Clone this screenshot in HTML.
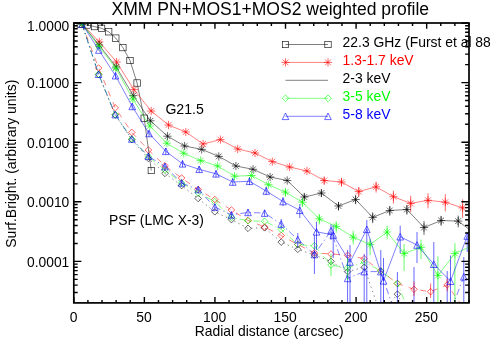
<!DOCTYPE html>
<html><head><meta charset="utf-8"><title>XMM PN+MOS1+MOS2 weighted profile</title>
<style>
html,body{margin:0;padding:0;background:#fff;}
body{width:491px;height:350px;overflow:hidden;position:relative;font-family:"Liberation Sans",sans-serif;}
svg text{font-family:"Liberation Sans",sans-serif;}
</style></head><body>
<svg width="491" height="350" viewBox="0 0 491 350" style="position:absolute;left:0;top:0;will-change:transform">
<defs><clipPath id="c"><rect x="73.8" y="23" width="395.2" height="279.9"/></clipPath></defs>
<g clip-path="url(#c)">
<polyline points="82.0,24.0 98.6,74.6 115.2,115.0 131.8,139.6 148.4,158.5 165.0,173.4 181.6,185.6 198.2,198.5 214.8,211.8 231.4,219.6 248.0,228.3 264.6,227.8 281.2,242.1 297.8,249.3 314.4,255.0 331.0,261.4 347.6,271.6 364.2,267.3 380.8,315.0 397.4,294.2 414.0,330.0" fill="none" stroke="#000000" stroke-width="0.5" stroke-dasharray="1.3,3.4"/>
<path d="M95.3,74.6L98.6,71.3L101.9,74.6L98.6,77.9Z" stroke="#000000" stroke-width="0.6" fill="none"/>
<path d="M111.9,115.0L115.2,111.7L118.5,115.0L115.2,118.3Z" stroke="#000000" stroke-width="0.6" fill="none"/>
<path d="M128.5,139.6L131.8,136.3L135.1,139.6L131.8,142.9Z" stroke="#000000" stroke-width="0.6" fill="none"/>
<path d="M145.1,158.5L148.4,155.2L151.7,158.5L148.4,161.8Z" stroke="#000000" stroke-width="0.6" fill="none"/>
<path d="M161.7,173.4L165.0,170.1L168.3,173.4L165.0,176.7Z" stroke="#000000" stroke-width="0.6" fill="none"/>
<path d="M178.3,185.6L181.6,182.3L184.9,185.6L181.6,188.9Z" stroke="#000000" stroke-width="0.6" fill="none"/>
<path d="M194.9,198.5L198.2,195.2L201.5,198.5L198.2,201.8Z" stroke="#000000" stroke-width="0.6" fill="none"/>
<path d="M211.5,211.8L214.8,208.5L218.1,211.8L214.8,215.1Z" stroke="#000000" stroke-width="0.6" fill="none"/>
<path d="M228.1,219.6L231.4,216.3L234.7,219.6L231.4,222.9Z" stroke="#000000" stroke-width="0.6" fill="none"/>
<path d="M244.7,228.3L248.0,225.0L251.3,228.3L248.0,231.6Z" stroke="#000000" stroke-width="0.6" fill="none"/>
<path d="M261.3,227.8L264.6,224.5L267.9,227.8L264.6,231.1Z" stroke="#000000" stroke-width="0.6" fill="none"/>
<path d="M277.9,242.1L281.2,238.8L284.5,242.1L281.2,245.4Z" stroke="#000000" stroke-width="0.6" fill="none"/>
<path d="M294.5,249.3L297.8,246.0L301.1,249.3L297.8,252.6Z" stroke="#000000" stroke-width="0.6" fill="none"/>
<path d="M311.1,255.0L314.4,251.7L317.7,255.0L314.4,258.3Z" stroke="#000000" stroke-width="0.6" fill="none"/>
<path d="M327.7,261.4L331.0,258.1L334.3,261.4L331.0,264.7Z" stroke="#000000" stroke-width="0.6" fill="none"/>
<path d="M344.3,271.6L347.6,268.3L350.9,271.6L347.6,274.9Z" stroke="#000000" stroke-width="0.6" fill="none"/>
<path d="M360.9,267.3L364.2,264.0L367.5,267.3L364.2,270.6Z" stroke="#000000" stroke-width="0.6" fill="none"/>
<path d="M394.1,294.2L397.4,290.9L400.7,294.2L397.4,297.5Z" stroke="#000000" stroke-width="0.6" fill="none"/>
<polyline points="82.0,24.0 98.6,68.0 115.2,107.8 131.8,132.4 148.4,150.0 165.0,165.8 181.6,178.0 198.2,189.5 214.8,199.5 231.4,210.0 248.0,220.4 264.6,227.0 281.2,235.5 297.8,244.5 314.4,253.0 331.0,254.0 347.6,255.3 364.2,258.7 380.8,271.0 397.4,283.5 414.0,289.3 430.6,291.7 447.2,284.9 463.8,308.0" fill="none" stroke="#ff0000" stroke-width="0.5" stroke-dasharray="5.8,6.2"/>
<path d="M95.3,68.0L98.6,64.7L101.9,68.0L98.6,71.3Z" stroke="#ff0000" stroke-width="0.6" fill="none"/>
<path d="M111.9,107.8L115.2,104.5L118.5,107.8L115.2,111.1Z" stroke="#ff0000" stroke-width="0.6" fill="none"/>
<path d="M128.5,132.4L131.8,129.1L135.1,132.4L131.8,135.7Z" stroke="#ff0000" stroke-width="0.6" fill="none"/>
<path d="M145.1,150.0L148.4,146.7L151.7,150.0L148.4,153.3Z" stroke="#ff0000" stroke-width="0.6" fill="none"/>
<path d="M161.7,165.8L165.0,162.5L168.3,165.8L165.0,169.1Z" stroke="#ff0000" stroke-width="0.6" fill="none"/>
<path d="M178.3,178.0L181.6,174.7L184.9,178.0L181.6,181.3Z" stroke="#ff0000" stroke-width="0.6" fill="none"/>
<path d="M194.9,189.5L198.2,186.2L201.5,189.5L198.2,192.8Z" stroke="#ff0000" stroke-width="0.6" fill="none"/>
<path d="M211.5,199.5L214.8,196.2L218.1,199.5L214.8,202.8Z" stroke="#ff0000" stroke-width="0.6" fill="none"/>
<path d="M228.1,210.0L231.4,206.7L234.7,210.0L231.4,213.3Z" stroke="#ff0000" stroke-width="0.6" fill="none"/>
<path d="M244.7,220.4L248.0,217.1L251.3,220.4L248.0,223.7Z" stroke="#ff0000" stroke-width="0.6" fill="none"/>
<path d="M261.3,227.0L264.6,223.7L267.9,227.0L264.6,230.3Z" stroke="#ff0000" stroke-width="0.6" fill="none"/>
<path d="M277.9,235.5L281.2,232.2L284.5,235.5L281.2,238.8Z" stroke="#ff0000" stroke-width="0.6" fill="none"/>
<path d="M294.5,244.5L297.8,241.2L301.1,244.5L297.8,247.8Z" stroke="#ff0000" stroke-width="0.6" fill="none"/>
<path d="M311.1,253.0L314.4,249.7L317.7,253.0L314.4,256.3Z" stroke="#ff0000" stroke-width="0.6" fill="none"/>
<path d="M327.7,254.0L331.0,250.7L334.3,254.0L331.0,257.3Z" stroke="#ff0000" stroke-width="0.6" fill="none"/>
<path d="M344.3,255.3L347.6,252.0L350.9,255.3L347.6,258.6Z" stroke="#ff0000" stroke-width="0.6" fill="none"/>
<path d="M360.9,258.7L364.2,255.4L367.5,258.7L364.2,262.0Z" stroke="#ff0000" stroke-width="0.6" fill="none"/>
<path d="M377.5,271.0L380.8,267.7L384.1,271.0L380.8,274.3Z" stroke="#ff0000" stroke-width="0.6" fill="none"/>
<path d="M394.1,283.5L397.4,280.2L400.7,283.5L397.4,286.8Z" stroke="#ff0000" stroke-width="0.6" fill="none"/>
<path d="M410.7,289.3L414.0,286.0L417.3,289.3L414.0,292.6Z" stroke="#ff0000" stroke-width="0.6" fill="none"/>
<path d="M427.3,291.7L430.6,288.4L433.9,291.7L430.6,295.0Z" stroke="#ff0000" stroke-width="0.6" fill="none"/>
<path d="M443.9,284.9L447.2,281.6L450.5,284.9L447.2,288.2Z" stroke="#ff0000" stroke-width="0.6" fill="none"/>
<polyline points="82.0,24.0 98.6,74.2 115.2,114.6 131.8,139.0 148.4,156.5 165.0,170.0 181.6,183.0 198.2,193.0 214.8,201.6 231.4,217.5 248.0,220.8 264.6,221.3 281.2,229.4 297.8,244.6 314.4,245.8 331.0,265.0 347.6,268.0 364.2,262.0 380.8,271.0 397.4,283.5 414.0,324.0" fill="none" stroke="#00ff00" stroke-width="0.5" stroke-dasharray="6.5,3,1.3,3"/>
<path d="M95.3,74.2L98.6,70.9L101.9,74.2L98.6,77.5Z" stroke="#00ff00" stroke-width="0.6" fill="none"/>
<path d="M111.9,114.6L115.2,111.3L118.5,114.6L115.2,117.9Z" stroke="#00ff00" stroke-width="0.6" fill="none"/>
<path d="M128.5,139.0L131.8,135.7L135.1,139.0L131.8,142.3Z" stroke="#00ff00" stroke-width="0.6" fill="none"/>
<path d="M145.1,156.5L148.4,153.2L151.7,156.5L148.4,159.8Z" stroke="#00ff00" stroke-width="0.6" fill="none"/>
<path d="M161.7,170.0L165.0,166.7L168.3,170.0L165.0,173.3Z" stroke="#00ff00" stroke-width="0.6" fill="none"/>
<path d="M178.3,183.0L181.6,179.7L184.9,183.0L181.6,186.3Z" stroke="#00ff00" stroke-width="0.6" fill="none"/>
<path d="M194.9,193.0L198.2,189.7L201.5,193.0L198.2,196.3Z" stroke="#00ff00" stroke-width="0.6" fill="none"/>
<path d="M211.5,201.6L214.8,198.3L218.1,201.6L214.8,204.9Z" stroke="#00ff00" stroke-width="0.6" fill="none"/>
<path d="M228.1,217.5L231.4,214.2L234.7,217.5L231.4,220.8Z" stroke="#00ff00" stroke-width="0.6" fill="none"/>
<path d="M244.7,220.8L248.0,217.5L251.3,220.8L248.0,224.1Z" stroke="#00ff00" stroke-width="0.6" fill="none"/>
<path d="M261.3,221.3L264.6,218.0L267.9,221.3L264.6,224.6Z" stroke="#00ff00" stroke-width="0.6" fill="none"/>
<path d="M277.9,229.4L281.2,226.1L284.5,229.4L281.2,232.7Z" stroke="#00ff00" stroke-width="0.6" fill="none"/>
<path d="M294.5,244.6L297.8,241.3L301.1,244.6L297.8,247.9Z" stroke="#00ff00" stroke-width="0.6" fill="none"/>
<path d="M311.1,245.8L314.4,242.5L317.7,245.8L314.4,249.1Z" stroke="#00ff00" stroke-width="0.6" fill="none"/>
<path d="M327.7,265.0L331.0,261.7L334.3,265.0L331.0,268.3Z" stroke="#00ff00" stroke-width="0.6" fill="none"/>
<path d="M344.3,268.0L347.6,264.7L350.9,268.0L347.6,271.3Z" stroke="#00ff00" stroke-width="0.6" fill="none"/>
<path d="M360.9,262.0L364.2,258.7L367.5,262.0L364.2,265.3Z" stroke="#00ff00" stroke-width="0.6" fill="none"/>
<path d="M377.5,271.0L380.8,267.7L384.1,271.0L380.8,274.3Z" stroke="#00ff00" stroke-width="0.6" fill="none"/>
<path d="M394.1,283.5L397.4,280.2L400.7,283.5L397.4,286.8Z" stroke="#00ff00" stroke-width="0.6" fill="none"/>
<polyline points="82.0,24.0 98.6,74.2 115.2,114.6 131.8,139.0 148.4,156.3 165.0,166.5 181.6,182.9 198.2,189.6 214.8,207.0 231.4,214.9 248.0,212.4 264.6,213.1 281.2,224.0 297.8,239.6 314.4,254.5 331.0,230.7 347.6,278.4 364.2,271.6 380.8,271.6 397.4,320.0 414.0,320.0 430.6,320.0 447.2,320.0 463.8,276.8" fill="none" stroke="#0000ff" stroke-width="0.5" stroke-dasharray="6.5,3,1.3,3"/>
<path d="M95.3,77.5L98.6,70.9L101.9,77.5Z" stroke="#0000ff" stroke-width="0.6" fill="none"/>
<path d="M111.9,117.9L115.2,111.3L118.5,117.9Z" stroke="#0000ff" stroke-width="0.6" fill="none"/>
<path d="M128.5,142.3L131.8,135.7L135.1,142.3Z" stroke="#0000ff" stroke-width="0.6" fill="none"/>
<path d="M145.1,159.6L148.4,153.0L151.7,159.6Z" stroke="#0000ff" stroke-width="0.6" fill="none"/>
<path d="M161.7,169.8L165.0,163.2L168.3,169.8Z" stroke="#0000ff" stroke-width="0.6" fill="none"/>
<path d="M178.3,186.2L181.6,179.6L184.9,186.2Z" stroke="#0000ff" stroke-width="0.6" fill="none"/>
<path d="M194.9,192.9L198.2,186.3L201.5,192.9Z" stroke="#0000ff" stroke-width="0.6" fill="none"/>
<path d="M211.5,210.3L214.8,203.7L218.1,210.3Z" stroke="#0000ff" stroke-width="0.6" fill="none"/>
<path d="M228.1,218.2L231.4,211.6L234.7,218.2Z" stroke="#0000ff" stroke-width="0.6" fill="none"/>
<path d="M244.7,215.7L248.0,209.1L251.3,215.7Z" stroke="#0000ff" stroke-width="0.6" fill="none"/>
<path d="M261.3,216.4L264.6,209.8L267.9,216.4Z" stroke="#0000ff" stroke-width="0.6" fill="none"/>
<path d="M277.9,227.3L281.2,220.7L284.5,227.3Z" stroke="#0000ff" stroke-width="0.6" fill="none"/>
<path d="M294.5,242.9L297.8,236.3L301.1,242.9Z" stroke="#0000ff" stroke-width="0.6" fill="none"/>
<path d="M311.1,257.8L314.4,251.2L317.7,257.8Z" stroke="#0000ff" stroke-width="0.6" fill="none"/>
<path d="M327.7,234.0L331.0,227.4L334.3,234.0Z" stroke="#0000ff" stroke-width="0.6" fill="none"/>
<path d="M344.3,281.7L347.6,275.1L350.9,281.7Z" stroke="#0000ff" stroke-width="0.6" fill="none"/>
<path d="M360.9,274.9L364.2,268.3L367.5,274.9Z" stroke="#0000ff" stroke-width="0.6" fill="none"/>
<path d="M377.5,274.9L380.8,268.3L384.1,274.9Z" stroke="#0000ff" stroke-width="0.6" fill="none"/>
<path d="M460.5,280.1L463.8,273.5L467.1,280.1Z" stroke="#0000ff" stroke-width="0.6" fill="none"/>
<polyline points="80.3,24.3 87.4,25.0 94.5,26.6 101.6,28.3 108.7,31.8 115.8,38.1 122.9,47.6 130.0,60.5 137.1,83.0 144.2,118.2 151.3,170.5" fill="none" stroke="#000000" stroke-width="0.5"/>
<rect x="77.1" y="21.1" width="6.4" height="6.4" stroke="#000000" stroke-width="0.6" fill="none"/>
<rect x="84.2" y="21.8" width="6.4" height="6.4" stroke="#000000" stroke-width="0.6" fill="none"/>
<rect x="91.3" y="23.4" width="6.4" height="6.4" stroke="#000000" stroke-width="0.6" fill="none"/>
<rect x="98.4" y="25.1" width="6.4" height="6.4" stroke="#000000" stroke-width="0.6" fill="none"/>
<rect x="105.5" y="28.6" width="6.4" height="6.4" stroke="#000000" stroke-width="0.6" fill="none"/>
<rect x="112.6" y="34.9" width="6.4" height="6.4" stroke="#000000" stroke-width="0.6" fill="none"/>
<rect x="119.7" y="44.4" width="6.4" height="6.4" stroke="#000000" stroke-width="0.6" fill="none"/>
<rect x="126.8" y="57.3" width="6.4" height="6.4" stroke="#000000" stroke-width="0.6" fill="none"/>
<rect x="133.9" y="79.8" width="6.4" height="6.4" stroke="#000000" stroke-width="0.6" fill="none"/>
<rect x="141.0" y="115.0" width="6.4" height="6.4" stroke="#000000" stroke-width="0.6" fill="none"/>
<rect x="148.1" y="167.3" width="6.4" height="6.4" stroke="#000000" stroke-width="0.6" fill="none"/>
<path d="M324.2,177.0V184.5" stroke="#ff0000" stroke-width="0.6" fill="none"/>
<path d="M341.5,178.0V186.6" stroke="#ff0000" stroke-width="0.6" fill="none"/>
<path d="M358.8,187.1V196.8" stroke="#ff0000" stroke-width="0.6" fill="none"/>
<path d="M376.1,181.8V192.6" stroke="#ff0000" stroke-width="0.6" fill="none"/>
<path d="M393.4,190.7V203.6" stroke="#ff0000" stroke-width="0.6" fill="none"/>
<path d="M410.7,195.8V212.1" stroke="#ff0000" stroke-width="0.6" fill="none"/>
<path d="M428.0,193.3V208.4" stroke="#ff0000" stroke-width="0.6" fill="none"/>
<path d="M445.3,194.2V211.4" stroke="#ff0000" stroke-width="0.6" fill="none"/>
<path d="M462.6,199.3V217.8" stroke="#ff0000" stroke-width="0.6" fill="none"/>
<path d="M304.3,193.5V201.0" stroke="#000000" stroke-width="0.6" fill="none"/>
<path d="M321.4,189.5V197.0" stroke="#000000" stroke-width="0.6" fill="none"/>
<path d="M338.5,202.0V210.6" stroke="#000000" stroke-width="0.6" fill="none"/>
<path d="M355.6,195.5V204.1" stroke="#000000" stroke-width="0.6" fill="none"/>
<path d="M372.7,212.4V223.2" stroke="#000000" stroke-width="0.6" fill="none"/>
<path d="M389.8,206.0V215.7" stroke="#000000" stroke-width="0.6" fill="none"/>
<path d="M406.9,205.0V214.7" stroke="#000000" stroke-width="0.6" fill="none"/>
<path d="M424.0,221.1V234.9" stroke="#000000" stroke-width="0.6" fill="none"/>
<path d="M441.1,215.9V225.8" stroke="#000000" stroke-width="0.6" fill="none"/>
<path d="M458.2,215.6V227.4" stroke="#000000" stroke-width="0.6" fill="none"/>
<path d="M285.4,188.5V196.5" stroke="#00ff00" stroke-width="0.6" fill="none"/>
<path d="M302.4,198.0V207.0" stroke="#00ff00" stroke-width="0.6" fill="none"/>
<path d="M319.3,214.0V224.5" stroke="#00ff00" stroke-width="0.6" fill="none"/>
<path d="M336.2,221.4V232.9" stroke="#00ff00" stroke-width="0.6" fill="none"/>
<path d="M353.2,230.7V244.3" stroke="#00ff00" stroke-width="0.6" fill="none"/>
<path d="M370.1,238.6V255.0" stroke="#00ff00" stroke-width="0.6" fill="none"/>
<path d="M387.1,225.7V239.4" stroke="#00ff00" stroke-width="0.6" fill="none"/>
<path d="M404.1,244.0V271.0" stroke="#00ff00" stroke-width="0.6" fill="none"/>
<path d="M421.0,239.5V259.0" stroke="#00ff00" stroke-width="0.6" fill="none"/>
<path d="M437.9,256.4V303.0" stroke="#00ff00" stroke-width="0.6" fill="none"/>
<path d="M454.9,243.0V303.0" stroke="#00ff00" stroke-width="0.6" fill="none"/>
<path d="M471.8,236.0V262.0" stroke="#00ff00" stroke-width="0.6" fill="none"/>
<path d="M115.5,72.5V79.0" stroke="#0000ff" stroke-width="0.6" fill="none"/>
<path d="M132.2,103.2V109.7" stroke="#0000ff" stroke-width="0.6" fill="none"/>
<path d="M149.0,130.3V136.8" stroke="#0000ff" stroke-width="0.6" fill="none"/>
<path d="M165.8,148.1V154.6" stroke="#0000ff" stroke-width="0.6" fill="none"/>
<path d="M182.5,160.6V167.1" stroke="#0000ff" stroke-width="0.6" fill="none"/>
<path d="M199.2,166.1V172.6" stroke="#0000ff" stroke-width="0.6" fill="none"/>
<path d="M216.0,170.3V177.3" stroke="#0000ff" stroke-width="0.6" fill="none"/>
<path d="M232.8,178.3V185.5" stroke="#0000ff" stroke-width="0.6" fill="none"/>
<path d="M249.5,177.0V185.0" stroke="#0000ff" stroke-width="0.6" fill="none"/>
<path d="M266.2,187.0V195.0" stroke="#0000ff" stroke-width="0.6" fill="none"/>
<path d="M283.0,197.0V206.0" stroke="#0000ff" stroke-width="0.6" fill="none"/>
<path d="M299.8,204.0V218.0" stroke="#0000ff" stroke-width="0.6" fill="none"/>
<path d="M316.5,222.0V250.0" stroke="#0000ff" stroke-width="0.6" fill="none"/>
<path d="M333.2,225.0V258.0" stroke="#0000ff" stroke-width="0.6" fill="none"/>
<path d="M350.0,245.0V303.0" stroke="#0000ff" stroke-width="0.6" fill="none"/>
<path d="M366.8,220.0V303.0" stroke="#0000ff" stroke-width="0.6" fill="none"/>
<path d="M383.5,258.0V303.0" stroke="#0000ff" stroke-width="0.6" fill="none"/>
<path d="M400.2,225.7V253.0" stroke="#0000ff" stroke-width="0.6" fill="none"/>
<path d="M417.0,232.0V263.0" stroke="#0000ff" stroke-width="0.6" fill="none"/>
<path d="M433.8,242.0V303.0" stroke="#0000ff" stroke-width="0.6" fill="none"/>
<path d="M450.5,255.5V303.0" stroke="#0000ff" stroke-width="0.6" fill="none"/>
<path d="M467.2,232.7V252.0" stroke="#0000ff" stroke-width="0.6" fill="none"/>
<path d="M148.4,153.0V159.6" stroke="#0000ff" stroke-width="0.6" fill="none"/>
<path d="M165.0,163.2V169.8" stroke="#0000ff" stroke-width="0.6" fill="none"/>
<path d="M181.6,179.6V186.2" stroke="#0000ff" stroke-width="0.6" fill="none"/>
<path d="M198.2,186.3V192.9" stroke="#0000ff" stroke-width="0.6" fill="none"/>
<path d="M214.8,203.7V210.3" stroke="#0000ff" stroke-width="0.6" fill="none"/>
<path d="M231.4,211.6V218.2" stroke="#0000ff" stroke-width="0.6" fill="none"/>
<path d="M248.0,209.1V215.7" stroke="#0000ff" stroke-width="0.6" fill="none"/>
<path d="M264.6,209.8V216.4" stroke="#0000ff" stroke-width="0.6" fill="none"/>
<path d="M281.2,219.0V229.0" stroke="#0000ff" stroke-width="0.6" fill="none"/>
<path d="M297.8,233.0V248.0" stroke="#0000ff" stroke-width="0.6" fill="none"/>
<path d="M314.4,235.0V274.0" stroke="#0000ff" stroke-width="0.6" fill="none"/>
<path d="M331.0,224.0V240.0" stroke="#0000ff" stroke-width="0.6" fill="none"/>
<path d="M347.6,250.0V303.0" stroke="#0000ff" stroke-width="0.6" fill="none"/>
<path d="M364.2,254.0V303.0" stroke="#0000ff" stroke-width="0.6" fill="none"/>
<path d="M380.8,250.0V303.0" stroke="#0000ff" stroke-width="0.6" fill="none"/>
<path d="M397.4,272.0V303.0" stroke="#0000ff" stroke-width="0.6" fill="none"/>
<path d="M414.0,267.0V303.0" stroke="#0000ff" stroke-width="0.6" fill="none"/>
<path d="M447.2,271.0V303.0" stroke="#0000ff" stroke-width="0.6" fill="none"/>
<path d="M463.8,257.0V303.0" stroke="#0000ff" stroke-width="0.6" fill="none"/>
<path d="M331.0,254.0V276.0" stroke="#00ff00" stroke-width="0.6" fill="none"/>
<path d="M347.6,258.0V280.0" stroke="#00ff00" stroke-width="0.6" fill="none"/>
<path d="M414.0,281.6V296.0" stroke="#ff0000" stroke-width="0.6" fill="none"/>
<path d="M430.6,283.5V298.0" stroke="#ff0000" stroke-width="0.6" fill="none"/>
<path d="M447.2,278.7V291.3" stroke="#ff0000" stroke-width="0.6" fill="none"/>
<polyline points="82.0,24.0 99.3,41.9 116.6,62.0 133.9,89.6 151.2,111.0 168.5,125.0 185.8,132.0 203.1,144.0 220.4,139.6 237.7,149.0 255.0,153.0 272.3,161.6 289.6,167.0 306.9,171.0 324.2,180.5 341.5,182.0 358.8,191.6 376.1,186.8 393.4,196.7 410.7,203.4 428.0,200.3 445.3,202.2 462.6,207.9" fill="none" stroke="#ff0000" stroke-width="0.5"/>
<path d="M77.9,24.0H86.1M82.0,19.9V28.1M79.1,21.1L84.9,26.9M79.1,26.9L84.9,21.1" stroke="#ff0000" stroke-width="0.6" fill="none"/>
<path d="M95.2,41.9H103.4M99.3,37.8V46.0M96.4,39.0L102.2,44.8M96.4,44.8L102.2,39.0" stroke="#ff0000" stroke-width="0.6" fill="none"/>
<path d="M112.5,62.0H120.7M116.6,57.9V66.1M113.7,59.1L119.5,64.9M113.7,64.9L119.5,59.1" stroke="#ff0000" stroke-width="0.6" fill="none"/>
<path d="M129.8,89.6H138.0M133.9,85.5V93.7M131.0,86.7L136.8,92.5M131.0,92.5L136.8,86.7" stroke="#ff0000" stroke-width="0.6" fill="none"/>
<path d="M147.1,111.0H155.3M151.2,106.9V115.1M148.3,108.1L154.1,113.9M148.3,113.9L154.1,108.1" stroke="#ff0000" stroke-width="0.6" fill="none"/>
<path d="M164.4,125.0H172.6M168.5,120.9V129.1M165.6,122.1L171.4,127.9M165.6,127.9L171.4,122.1" stroke="#ff0000" stroke-width="0.6" fill="none"/>
<path d="M181.7,132.0H189.9M185.8,127.9V136.1M182.9,129.1L188.7,134.9M182.9,134.9L188.7,129.1" stroke="#ff0000" stroke-width="0.6" fill="none"/>
<path d="M199.0,144.0H207.2M203.1,139.9V148.1M200.2,141.1L206.0,146.9M200.2,146.9L206.0,141.1" stroke="#ff0000" stroke-width="0.6" fill="none"/>
<path d="M216.3,139.6H224.5M220.4,135.5V143.7M217.5,136.7L223.3,142.5M217.5,142.5L223.3,136.7" stroke="#ff0000" stroke-width="0.6" fill="none"/>
<path d="M233.6,149.0H241.8M237.7,144.9V153.1M234.8,146.1L240.6,151.9M234.8,151.9L240.6,146.1" stroke="#ff0000" stroke-width="0.6" fill="none"/>
<path d="M250.9,153.0H259.1M255.0,148.9V157.1M252.1,150.1L257.9,155.9M252.1,155.9L257.9,150.1" stroke="#ff0000" stroke-width="0.6" fill="none"/>
<path d="M268.2,161.6H276.4M272.3,157.5V165.7M269.4,158.7L275.2,164.5M269.4,164.5L275.2,158.7" stroke="#ff0000" stroke-width="0.6" fill="none"/>
<path d="M285.5,167.0H293.7M289.6,162.9V171.1M286.7,164.1L292.5,169.9M286.7,169.9L292.5,164.1" stroke="#ff0000" stroke-width="0.6" fill="none"/>
<path d="M302.8,171.0H311.0M306.9,166.9V175.1M304.0,168.1L309.8,173.9M304.0,173.9L309.8,168.1" stroke="#ff0000" stroke-width="0.6" fill="none"/>
<path d="M320.1,180.5H328.3M324.2,176.4V184.6M321.3,177.6L327.1,183.4M321.3,183.4L327.1,177.6" stroke="#ff0000" stroke-width="0.6" fill="none"/>
<path d="M337.4,182.0H345.6M341.5,177.9V186.1M338.6,179.1L344.4,184.9M338.6,184.9L344.4,179.1" stroke="#ff0000" stroke-width="0.6" fill="none"/>
<path d="M354.7,191.6H362.9M358.8,187.5V195.7M355.9,188.7L361.7,194.5M355.9,194.5L361.7,188.7" stroke="#ff0000" stroke-width="0.6" fill="none"/>
<path d="M372.0,186.8H380.2M376.1,182.7V190.9M373.2,183.9L379.0,189.7M373.2,189.7L379.0,183.9" stroke="#ff0000" stroke-width="0.6" fill="none"/>
<path d="M389.3,196.7H397.5M393.4,192.6V200.8M390.5,193.8L396.3,199.6M390.5,199.6L396.3,193.8" stroke="#ff0000" stroke-width="0.6" fill="none"/>
<path d="M406.6,203.4H414.8M410.7,199.3V207.5M407.8,200.5L413.6,206.3M407.8,206.3L413.6,200.5" stroke="#ff0000" stroke-width="0.6" fill="none"/>
<path d="M423.9,200.3H432.1M428.0,196.2V204.4M425.1,197.4L430.9,203.2M425.1,203.2L430.9,197.4" stroke="#ff0000" stroke-width="0.6" fill="none"/>
<path d="M441.2,202.2H449.4M445.3,198.1V206.3M442.4,199.3L448.2,205.1M442.4,205.1L448.2,199.3" stroke="#ff0000" stroke-width="0.6" fill="none"/>
<path d="M458.5,207.9H466.7M462.6,203.8V212.0M459.7,205.0L465.5,210.8M459.7,210.8L465.5,205.0" stroke="#ff0000" stroke-width="0.6" fill="none"/>
<polyline points="82.0,24.0 99.1,45.0 116.2,67.0 133.3,95.6 150.4,120.8 167.5,136.2 184.6,146.0 201.7,149.4 218.8,156.4 235.9,166.0 253.0,169.3 270.1,177.0 287.2,180.5 304.3,197.0 321.4,193.0 338.5,206.0 355.6,199.5 372.7,217.4 389.8,210.5 406.9,209.5 424.0,227.5 441.1,220.5 458.2,221.1 475.3,234.0" fill="none" stroke="#000000" stroke-width="0.5"/>
<path d="M77.9,24.0H86.1M82.0,19.9V28.1M79.1,21.1L84.9,26.9M79.1,26.9L84.9,21.1" stroke="#000000" stroke-width="0.6" fill="none"/>
<path d="M95.0,45.0H103.2M99.1,40.9V49.1M96.2,42.1L102.0,47.9M96.2,47.9L102.0,42.1" stroke="#000000" stroke-width="0.6" fill="none"/>
<path d="M112.1,67.0H120.3M116.2,62.9V71.1M113.3,64.1L119.1,69.9M113.3,69.9L119.1,64.1" stroke="#000000" stroke-width="0.6" fill="none"/>
<path d="M129.2,95.6H137.4M133.3,91.5V99.7M130.4,92.7L136.2,98.5M130.4,98.5L136.2,92.7" stroke="#000000" stroke-width="0.6" fill="none"/>
<path d="M146.3,120.8H154.5M150.4,116.7V124.9M147.5,117.9L153.3,123.7M147.5,123.7L153.3,117.9" stroke="#000000" stroke-width="0.6" fill="none"/>
<path d="M163.4,136.2H171.6M167.5,132.1V140.3M164.6,133.3L170.4,139.1M164.6,139.1L170.4,133.3" stroke="#000000" stroke-width="0.6" fill="none"/>
<path d="M180.5,146.0H188.7M184.6,141.9V150.1M181.7,143.1L187.5,148.9M181.7,148.9L187.5,143.1" stroke="#000000" stroke-width="0.6" fill="none"/>
<path d="M197.6,149.4H205.8M201.7,145.3V153.5M198.8,146.5L204.6,152.3M198.8,152.3L204.6,146.5" stroke="#000000" stroke-width="0.6" fill="none"/>
<path d="M214.7,156.4H222.9M218.8,152.3V160.5M215.9,153.5L221.7,159.3M215.9,159.3L221.7,153.5" stroke="#000000" stroke-width="0.6" fill="none"/>
<path d="M231.8,166.0H240.0M235.9,161.9V170.1M233.0,163.1L238.8,168.9M233.0,168.9L238.8,163.1" stroke="#000000" stroke-width="0.6" fill="none"/>
<path d="M248.9,169.3H257.1M253.0,165.2V173.4M250.1,166.4L255.9,172.2M250.1,172.2L255.9,166.4" stroke="#000000" stroke-width="0.6" fill="none"/>
<path d="M266.0,177.0H274.2M270.1,172.9V181.1M267.2,174.1L273.0,179.9M267.2,179.9L273.0,174.1" stroke="#000000" stroke-width="0.6" fill="none"/>
<path d="M283.1,180.5H291.3M287.2,176.4V184.6M284.3,177.6L290.1,183.4M284.3,183.4L290.1,177.6" stroke="#000000" stroke-width="0.6" fill="none"/>
<path d="M300.2,197.0H308.4M304.3,192.9V201.1M301.4,194.1L307.2,199.9M301.4,199.9L307.2,194.1" stroke="#000000" stroke-width="0.6" fill="none"/>
<path d="M317.3,193.0H325.5M321.4,188.9V197.1M318.5,190.1L324.3,195.9M318.5,195.9L324.3,190.1" stroke="#000000" stroke-width="0.6" fill="none"/>
<path d="M334.4,206.0H342.6M338.5,201.9V210.1M335.6,203.1L341.4,208.9M335.6,208.9L341.4,203.1" stroke="#000000" stroke-width="0.6" fill="none"/>
<path d="M351.5,199.5H359.7M355.6,195.4V203.6M352.7,196.6L358.5,202.4M352.7,202.4L358.5,196.6" stroke="#000000" stroke-width="0.6" fill="none"/>
<path d="M368.6,217.4H376.8M372.7,213.3V221.5M369.8,214.5L375.6,220.3M369.8,220.3L375.6,214.5" stroke="#000000" stroke-width="0.6" fill="none"/>
<path d="M385.7,210.5H393.9M389.8,206.4V214.6M386.9,207.6L392.7,213.4M386.9,213.4L392.7,207.6" stroke="#000000" stroke-width="0.6" fill="none"/>
<path d="M402.8,209.5H411.0M406.9,205.4V213.6M404.0,206.6L409.8,212.4M404.0,212.4L409.8,206.6" stroke="#000000" stroke-width="0.6" fill="none"/>
<path d="M419.9,227.5H428.1M424.0,223.4V231.6M421.1,224.6L426.9,230.4M421.1,230.4L426.9,224.6" stroke="#000000" stroke-width="0.6" fill="none"/>
<path d="M437.0,220.5H445.2M441.1,216.4V224.6M438.2,217.6L444.0,223.4M438.2,223.4L444.0,217.6" stroke="#000000" stroke-width="0.6" fill="none"/>
<path d="M454.1,221.1H462.3M458.2,217.0V225.2M455.3,218.2L461.1,224.0M455.3,224.0L461.1,218.2" stroke="#000000" stroke-width="0.6" fill="none"/>
<path d="M471.2,234.0H479.4M475.3,229.9V238.1M472.4,231.1L478.2,236.9M472.4,236.9L478.2,231.1" stroke="#000000" stroke-width="0.6" fill="none"/>
<polyline points="82.0,24.0 99.0,46.5 115.9,68.2 132.8,99.0 149.8,126.0 166.8,143.3 183.7,153.3 200.6,160.6 217.6,166.0 234.5,176.2 251.5,175.5 268.4,184.7 285.4,192.2 302.4,202.2 319.3,218.8 336.2,226.4 353.2,237.2 370.1,244.6 387.1,232.0 404.1,253.5 421.0,247.4 437.9,275.4 454.9,253.6 471.8,246.0" fill="none" stroke="#00ff00" stroke-width="0.5"/>
<path d="M77.9,24.0H86.1M82.0,19.9V28.1M79.1,21.1L84.9,26.9M79.1,26.9L84.9,21.1" stroke="#00ff00" stroke-width="0.6" fill="none"/>
<path d="M94.9,46.5H103.0M99.0,42.4V50.6M96.1,43.6L101.8,49.4M96.1,49.4L101.8,43.6" stroke="#00ff00" stroke-width="0.6" fill="none"/>
<path d="M111.8,68.2H120.0M115.9,64.1V72.3M113.0,65.3L118.8,71.1M113.0,71.1L118.8,65.3" stroke="#00ff00" stroke-width="0.6" fill="none"/>
<path d="M128.8,99.0H136.9M132.8,94.9V103.1M130.0,96.1L135.7,101.9M130.0,101.9L135.7,96.1" stroke="#00ff00" stroke-width="0.6" fill="none"/>
<path d="M145.7,126.0H153.9M149.8,121.9V130.1M146.9,123.1L152.7,128.9M146.9,128.9L152.7,123.1" stroke="#00ff00" stroke-width="0.6" fill="none"/>
<path d="M162.7,143.3H170.8M166.8,139.2V147.4M163.9,140.4L169.6,146.2M163.9,146.2L169.6,140.4" stroke="#00ff00" stroke-width="0.6" fill="none"/>
<path d="M179.6,153.3H187.8M183.7,149.2V157.4M180.8,150.4L186.6,156.2M180.8,156.2L186.6,150.4" stroke="#00ff00" stroke-width="0.6" fill="none"/>
<path d="M196.5,160.6H204.7M200.6,156.5V164.7M197.8,157.7L203.5,163.5M197.8,163.5L203.5,157.7" stroke="#00ff00" stroke-width="0.6" fill="none"/>
<path d="M213.5,166.0H221.7M217.6,161.9V170.1M214.7,163.1L220.5,168.9M214.7,168.9L220.5,163.1" stroke="#00ff00" stroke-width="0.6" fill="none"/>
<path d="M230.4,176.2H238.6M234.5,172.1V180.3M231.7,173.3L237.4,179.1M231.7,179.1L237.4,173.3" stroke="#00ff00" stroke-width="0.6" fill="none"/>
<path d="M247.4,175.5H255.6M251.5,171.4V179.6M248.6,172.6L254.4,178.4M248.6,178.4L254.4,172.6" stroke="#00ff00" stroke-width="0.6" fill="none"/>
<path d="M264.3,184.7H272.6M268.4,180.6V188.8M265.6,181.8L271.3,187.6M265.6,187.6L271.3,181.8" stroke="#00ff00" stroke-width="0.6" fill="none"/>
<path d="M281.3,192.2H289.5M285.4,188.1V196.3M282.5,189.3L288.3,195.1M282.5,195.1L288.3,189.3" stroke="#00ff00" stroke-width="0.6" fill="none"/>
<path d="M298.2,202.2H306.5M302.4,198.1V206.3M299.5,199.3L305.2,205.1M299.5,205.1L305.2,199.3" stroke="#00ff00" stroke-width="0.6" fill="none"/>
<path d="M315.2,218.8H323.4M319.3,214.7V222.9M316.4,215.9L322.2,221.7M316.4,221.7L322.2,215.9" stroke="#00ff00" stroke-width="0.6" fill="none"/>
<path d="M332.1,226.4H340.4M336.2,222.3V230.5M333.4,223.5L339.1,229.3M333.4,229.3L339.1,223.5" stroke="#00ff00" stroke-width="0.6" fill="none"/>
<path d="M349.1,237.2H357.3M353.2,233.1V241.3M350.3,234.3L356.1,240.1M350.3,240.1L356.1,234.3" stroke="#00ff00" stroke-width="0.6" fill="none"/>
<path d="M366.0,244.6H374.2M370.1,240.5V248.7M367.3,241.7L373.0,247.5M367.3,247.5L373.0,241.7" stroke="#00ff00" stroke-width="0.6" fill="none"/>
<path d="M383.0,232.0H391.2M387.1,227.9V236.1M384.2,229.1L390.0,234.9M384.2,234.9L390.0,229.1" stroke="#00ff00" stroke-width="0.6" fill="none"/>
<path d="M399.9,253.5H408.2M404.1,249.4V257.6M401.2,250.6L406.9,256.4M401.2,256.4L406.9,250.6" stroke="#00ff00" stroke-width="0.6" fill="none"/>
<path d="M416.9,247.4H425.1M421.0,243.3V251.5M418.1,244.5L423.9,250.3M418.1,250.3L423.9,244.5" stroke="#00ff00" stroke-width="0.6" fill="none"/>
<path d="M433.8,275.4H442.1M437.9,271.3V279.5M435.1,272.5L440.8,278.3M435.1,278.3L440.8,272.5" stroke="#00ff00" stroke-width="0.6" fill="none"/>
<path d="M450.8,253.6H459.0M454.9,249.5V257.7M452.0,250.7L457.8,256.5M452.0,256.5L457.8,250.7" stroke="#00ff00" stroke-width="0.6" fill="none"/>
<path d="M467.7,246.0H475.9M471.8,241.9V250.1M469.0,243.1L474.7,248.9M469.0,248.9L474.7,243.1" stroke="#00ff00" stroke-width="0.6" fill="none"/>
<polyline points="82.0,24.0 98.8,50.0 115.5,75.7 132.2,106.4 149.0,133.5 165.8,151.3 182.5,163.8 199.2,169.3 216.0,173.8 232.8,182.0 249.5,181.3 266.2,191.0 283.0,201.5 299.8,210.3 316.5,231.8 333.2,235.0 350.0,262.0 366.8,229.3 383.5,280.8 400.2,236.7 417.0,245.0 433.8,264.2 450.5,281.2 467.2,236.0" fill="none" stroke="#0000ff" stroke-width="0.5"/>
<path d="M78.7,27.3L82.0,20.7L85.3,27.3Z" stroke="#0000ff" stroke-width="0.6" fill="none"/>
<path d="M95.5,53.3L98.8,46.7L102.0,53.3Z" stroke="#0000ff" stroke-width="0.6" fill="none"/>
<path d="M112.2,79.0L115.5,72.4L118.8,79.0Z" stroke="#0000ff" stroke-width="0.6" fill="none"/>
<path d="M128.9,109.7L132.2,103.1L135.6,109.7Z" stroke="#0000ff" stroke-width="0.6" fill="none"/>
<path d="M145.7,136.8L149.0,130.2L152.3,136.8Z" stroke="#0000ff" stroke-width="0.6" fill="none"/>
<path d="M162.4,154.6L165.8,148.0L169.1,154.6Z" stroke="#0000ff" stroke-width="0.6" fill="none"/>
<path d="M179.2,167.1L182.5,160.5L185.8,167.1Z" stroke="#0000ff" stroke-width="0.6" fill="none"/>
<path d="M195.9,172.6L199.2,166.0L202.6,172.6Z" stroke="#0000ff" stroke-width="0.6" fill="none"/>
<path d="M212.7,177.1L216.0,170.5L219.3,177.1Z" stroke="#0000ff" stroke-width="0.6" fill="none"/>
<path d="M229.4,185.3L232.8,178.7L236.1,185.3Z" stroke="#0000ff" stroke-width="0.6" fill="none"/>
<path d="M246.2,184.6L249.5,178.0L252.8,184.6Z" stroke="#0000ff" stroke-width="0.6" fill="none"/>
<path d="M262.9,194.3L266.2,187.7L269.6,194.3Z" stroke="#0000ff" stroke-width="0.6" fill="none"/>
<path d="M279.7,204.8L283.0,198.2L286.3,204.8Z" stroke="#0000ff" stroke-width="0.6" fill="none"/>
<path d="M296.4,213.6L299.8,207.0L303.1,213.6Z" stroke="#0000ff" stroke-width="0.6" fill="none"/>
<path d="M313.2,235.1L316.5,228.5L319.8,235.1Z" stroke="#0000ff" stroke-width="0.6" fill="none"/>
<path d="M329.9,238.3L333.2,231.7L336.6,238.3Z" stroke="#0000ff" stroke-width="0.6" fill="none"/>
<path d="M346.7,265.3L350.0,258.7L353.3,265.3Z" stroke="#0000ff" stroke-width="0.6" fill="none"/>
<path d="M363.4,232.6L366.8,226.0L370.1,232.6Z" stroke="#0000ff" stroke-width="0.6" fill="none"/>
<path d="M380.2,284.1L383.5,277.5L386.8,284.1Z" stroke="#0000ff" stroke-width="0.6" fill="none"/>
<path d="M396.9,240.0L400.2,233.4L403.6,240.0Z" stroke="#0000ff" stroke-width="0.6" fill="none"/>
<path d="M413.7,248.3L417.0,241.7L420.3,248.3Z" stroke="#0000ff" stroke-width="0.6" fill="none"/>
<path d="M430.4,267.5L433.8,260.9L437.1,267.5Z" stroke="#0000ff" stroke-width="0.6" fill="none"/>
<path d="M447.2,284.5L450.5,277.9L453.8,284.5Z" stroke="#0000ff" stroke-width="0.6" fill="none"/>
<path d="M463.9,239.3L467.2,232.7L470.6,239.3Z" stroke="#0000ff" stroke-width="0.6" fill="none"/>
</g>
<rect x="73.8" y="23" width="395.2" height="279.9" fill="none" stroke="#000" stroke-width="1.7"/>
<path d="M73.80,302.9v-5.8M73.80,23v5.8M87.91,302.9v-2.9M87.91,23v2.9M102.03,302.9v-2.9M102.03,23v2.9M116.14,302.9v-2.9M116.14,23v2.9M130.26,302.9v-2.9M130.26,23v2.9M144.37,302.9v-5.8M144.37,23v5.8M158.49,302.9v-2.9M158.49,23v2.9M172.60,302.9v-2.9M172.60,23v2.9M186.71,302.9v-2.9M186.71,23v2.9M200.83,302.9v-2.9M200.83,23v2.9M214.94,302.9v-5.8M214.94,23v5.8M229.06,302.9v-2.9M229.06,23v2.9M243.17,302.9v-2.9M243.17,23v2.9M257.29,302.9v-2.9M257.29,23v2.9M271.40,302.9v-2.9M271.40,23v2.9M285.51,302.9v-5.8M285.51,23v5.8M299.63,302.9v-2.9M299.63,23v2.9M313.74,302.9v-2.9M313.74,23v2.9M327.86,302.9v-2.9M327.86,23v2.9M341.97,302.9v-2.9M341.97,23v2.9M356.09,302.9v-5.8M356.09,23v5.8M370.20,302.9v-2.9M370.20,23v2.9M384.31,302.9v-2.9M384.31,23v2.9M398.43,302.9v-2.9M398.43,23v2.9M412.54,302.9v-2.9M412.54,23v2.9M426.66,302.9v-5.8M426.66,23v5.8M440.77,302.9v-2.9M440.77,23v2.9M454.89,302.9v-2.9M454.89,23v2.9M469.00,302.9v-2.9M469.00,23v2.9M73.8,23.00h7.6M469,23.00h-7.6M73.8,64.66h3.9M469,64.66h-3.9M73.8,54.16h3.9M469,54.16h-3.9M73.8,46.72h3.9M469,46.72h-3.9M73.8,40.94h3.9M469,40.94h-3.9M73.8,36.22h3.9M469,36.22h-3.9M73.8,32.23h3.9M469,32.23h-3.9M73.8,28.78h3.9M469,28.78h-3.9M73.8,25.73h3.9M469,25.73h-3.9M73.8,82.60h7.6M469,82.60h-7.6M73.8,124.26h3.9M469,124.26h-3.9M73.8,113.76h3.9M469,113.76h-3.9M73.8,106.32h3.9M469,106.32h-3.9M73.8,100.54h3.9M469,100.54h-3.9M73.8,95.82h3.9M469,95.82h-3.9M73.8,91.83h3.9M469,91.83h-3.9M73.8,88.38h3.9M469,88.38h-3.9M73.8,85.33h3.9M469,85.33h-3.9M73.8,142.20h7.6M469,142.20h-7.6M73.8,183.86h3.9M469,183.86h-3.9M73.8,173.36h3.9M469,173.36h-3.9M73.8,165.92h3.9M469,165.92h-3.9M73.8,160.14h3.9M469,160.14h-3.9M73.8,155.42h3.9M469,155.42h-3.9M73.8,151.43h3.9M469,151.43h-3.9M73.8,147.98h3.9M469,147.98h-3.9M73.8,144.93h3.9M469,144.93h-3.9M73.8,201.80h7.6M469,201.80h-7.6M73.8,243.46h3.9M469,243.46h-3.9M73.8,232.96h3.9M469,232.96h-3.9M73.8,225.52h3.9M469,225.52h-3.9M73.8,219.74h3.9M469,219.74h-3.9M73.8,215.02h3.9M469,215.02h-3.9M73.8,211.03h3.9M469,211.03h-3.9M73.8,207.58h3.9M469,207.58h-3.9M73.8,204.53h3.9M469,204.53h-3.9M73.8,261.40h7.6M469,261.40h-7.6M73.8,292.56h3.9M469,292.56h-3.9M73.8,285.12h3.9M469,285.12h-3.9M73.8,279.34h3.9M469,279.34h-3.9M73.8,274.62h3.9M469,274.62h-3.9M73.8,270.63h3.9M469,270.63h-3.9M73.8,267.18h3.9M469,267.18h-3.9M73.8,264.13h3.9M469,264.13h-3.9M73.8,292.56h3.9M469,292.56h-3.9M73.8,285.12h3.9M469,285.12h-3.9M73.8,279.34h3.9M469,279.34h-3.9M73.8,274.62h3.9M469,274.62h-3.9M73.8,270.63h3.9M469,270.63h-3.9M73.8,267.18h3.9M469,267.18h-3.9M73.8,264.13h3.9M469,264.13h-3.9" stroke="#000" stroke-width="1.4" fill="none"/>
<polyline points="285.5,44.5 328.0,44.5" fill="none" stroke="#000000" stroke-width="0.5"/>
<rect x="282.3" y="41.3" width="6.4" height="6.4" stroke="#000000" stroke-width="0.6" fill="none"/>
<rect x="324.8" y="41.3" width="6.4" height="6.4" stroke="#000000" stroke-width="0.6" fill="none"/>
<polyline points="285.5,62.4 328.0,62.4" fill="none" stroke="#ff0000" stroke-width="0.5"/>
<path d="M281.4,62.4H289.6M285.5,58.3V66.5M282.6,59.5L288.4,65.3M282.6,65.3L288.4,59.5" stroke="#ff0000" stroke-width="0.6" fill="none"/>
<path d="M323.9,62.4H332.1M328.0,58.3V66.5M325.1,59.5L330.9,65.3M325.1,65.3L330.9,59.5" stroke="#ff0000" stroke-width="0.6" fill="none"/>
<polyline points="285.5,80.3 328.0,80.3" fill="none" stroke="#000000" stroke-width="0.5"/>
<polyline points="285.5,98.3 328.0,98.3" fill="none" stroke="#00ff00" stroke-width="0.5"/>
<path d="M282.2,98.3L285.5,95.0L288.8,98.3L285.5,101.6Z" stroke="#00ff00" stroke-width="0.6" fill="none"/>
<path d="M324.7,98.3L328.0,95.0L331.3,98.3L328.0,101.6Z" stroke="#00ff00" stroke-width="0.6" fill="none"/>
<polyline points="285.5,116.3 328.0,116.3" fill="none" stroke="#0000ff" stroke-width="0.5"/>
<path d="M282.2,119.6L285.5,113.0L288.8,119.6Z" stroke="#0000ff" stroke-width="0.6" fill="none"/>
<path d="M324.7,119.6L328.0,113.0L331.3,119.6Z" stroke="#0000ff" stroke-width="0.6" fill="none"/>
<text x="342.6" y="46.9" font-size="13.9" fill="#000" text-anchor="start" font-family="Liberation Sans, sans-serif" >22.3 GHz (Furst et al 88</text>
<text x="342.6" y="64.8" font-size="13.9" fill="#ff0000" text-anchor="start" font-family="Liberation Sans, sans-serif" >1.3-1.7 keV</text>
<text x="342.6" y="82.7" font-size="13.9" fill="#000" text-anchor="start" font-family="Liberation Sans, sans-serif" >2-3 keV</text>
<text x="342.6" y="100.7" font-size="13.9" fill="#00ff00" text-anchor="start" font-family="Liberation Sans, sans-serif" >3-5 keV</text>
<text x="342.6" y="118.6" font-size="13.9" fill="#0000ff" text-anchor="start" font-family="Liberation Sans, sans-serif" >5-8 keV</text>
<text x="270.3" y="15" font-size="17.55" fill="#000" text-anchor="middle" font-family="Liberation Sans, sans-serif" >XMM PN+MOS1+MOS2 weighted profile</text>
<text x="165.4" y="113.7" font-size="14.1" fill="#000" text-anchor="start" font-family="Liberation Sans, sans-serif" >G21.5</text>
<text x="109.0" y="225.4" font-size="13.9" fill="#000" text-anchor="start" font-family="Liberation Sans, sans-serif" >PSF (LMC X-3)</text>
<text x="69.3" y="31.3" font-size="13.8" fill="#000" text-anchor="end" font-family="Liberation Sans, sans-serif" >1.0000</text>
<text x="69.3" y="87.9" font-size="13.8" fill="#000" text-anchor="end" font-family="Liberation Sans, sans-serif" >0.1000</text>
<text x="69.3" y="147.5" font-size="13.8" fill="#000" text-anchor="end" font-family="Liberation Sans, sans-serif" >0.0100</text>
<text x="69.3" y="207.1" font-size="13.8" fill="#000" text-anchor="end" font-family="Liberation Sans, sans-serif" >0.0010</text>
<text x="69.3" y="266.5" font-size="13.8" fill="#000" text-anchor="end" font-family="Liberation Sans, sans-serif" >0.0001</text>
<text x="73.5" y="321.7" font-size="13.9" fill="#000" text-anchor="middle" font-family="Liberation Sans, sans-serif" >0</text>
<text x="144.1" y="321.7" font-size="13.9" fill="#000" text-anchor="middle" font-family="Liberation Sans, sans-serif" >50</text>
<text x="214.6" y="321.7" font-size="13.9" fill="#000" text-anchor="middle" font-family="Liberation Sans, sans-serif" >100</text>
<text x="285.2" y="321.7" font-size="13.9" fill="#000" text-anchor="middle" font-family="Liberation Sans, sans-serif" >150</text>
<text x="355.8" y="321.7" font-size="13.9" fill="#000" text-anchor="middle" font-family="Liberation Sans, sans-serif" >200</text>
<text x="426.4" y="321.7" font-size="13.9" fill="#000" text-anchor="middle" font-family="Liberation Sans, sans-serif" >250</text>
<text x="269.2" y="336.2" font-size="13.9" fill="#000" text-anchor="middle" font-family="Liberation Sans, sans-serif" >Radial distance (arcsec)</text>
<text transform="translate(15.6,163.7) rotate(-90)" font-size="14.0" text-anchor="middle" font-family="Liberation Sans, sans-serif">Surf.Bright. (arbitrary units)</text>
</svg>
</body></html>
